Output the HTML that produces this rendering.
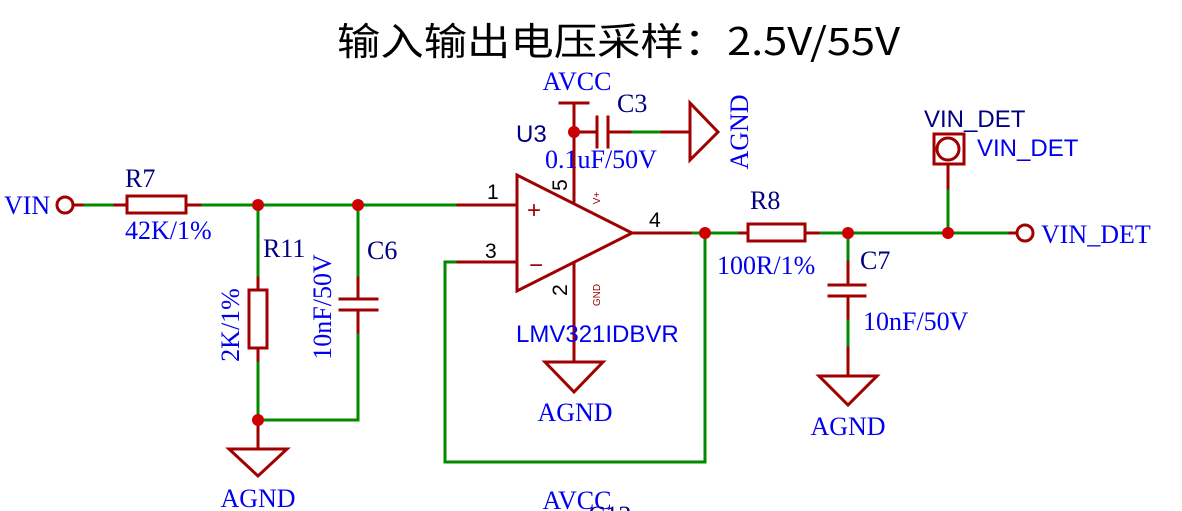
<!DOCTYPE html>
<html><head><meta charset="utf-8"><style>
html,body{margin:0;padding:0;background:#fff;}
svg{display:block;}
.s{font-family:"Liberation Serif",serif;}
.a{font-family:"Liberation Sans",sans-serif;}
</style></head><body>
<svg width="1182" height="511" viewBox="0 0 1182 511" xmlns="http://www.w3.org/2000/svg">
<text x="337" y="55" font-family="'Noto Sans CJK SC',sans-serif" font-size="38" fill="#000" textLength="563" lengthAdjust="spacingAndGlyphs">输入输出电压采样：2.5V/55V</text>

<g stroke-width="3" fill="none" stroke-linecap="square">
<g stroke="#008a00">
<line x1="82" y1="205" x2="115" y2="205"/>
<line x1="200" y1="205" x2="458" y2="205"/>
<line x1="258" y1="205" x2="258" y2="278"/>
<line x1="258" y1="360" x2="258" y2="420"/>
<polyline points="258,420 358,420 358,332"/>
<line x1="358" y1="205" x2="358" y2="278"/>
<polyline points="458,262 445,262 445,462 705,462 705,233"/>
<line x1="690" y1="233" x2="740" y2="233"/>
<line x1="818" y1="233" x2="1010" y2="233"/>
<line x1="848" y1="233" x2="848" y2="262"/>
<line x1="848" y1="318" x2="848" y2="348"/>
<line x1="948" y1="188" x2="948" y2="233"/>
<line x1="630" y1="132" x2="662" y2="132"/>
<line x1="574" y1="132" x2="574" y2="140"/>
<line x1="574" y1="322" x2="574" y2="332"/>
</g>
<g stroke="#a00000">
<circle cx="65" cy="205" r="8"/>
<line x1="73" y1="205" x2="82" y2="205"/>
<line x1="115" y1="205" x2="127" y2="205"/>
<rect x="127" y="196" width="59" height="17"/>
<line x1="186" y1="205" x2="200" y2="205"/>
<line x1="258" y1="278" x2="258" y2="290"/>
<rect x="249" y="290" width="18" height="58"/>
<line x1="258" y1="348" x2="258" y2="360"/>
<line x1="258" y1="420" x2="258" y2="449"/>
<polygon points="229,449 287,449 258,476"/>
<line x1="358" y1="278" x2="358" y2="299"/>
<line x1="340" y1="299" x2="377" y2="299"/>
<line x1="340" y1="310" x2="377" y2="310"/>
<line x1="358" y1="310" x2="358" y2="332"/>
<polygon points="517,175 517,291 632,233"/>
<line x1="458" y1="205" x2="517" y2="205"/>
<line x1="458" y1="262" x2="517" y2="262"/>
<line x1="632" y1="233" x2="690" y2="233"/>
<line x1="574" y1="103" x2="574" y2="201"/>
<line x1="560" y1="103" x2="588" y2="103"/>
<line x1="574" y1="263" x2="574" y2="362"/>
<polygon points="545,362 603,362 574,392"/>
<line x1="574" y1="132" x2="597" y2="132"/>
<line x1="597" y1="117" x2="597" y2="147"/>
<line x1="608" y1="117" x2="608" y2="147"/>
<line x1="608" y1="132" x2="630" y2="132"/>
<line x1="662" y1="132" x2="690" y2="132"/>
<polygon points="690,103 690,160 718,132"/>
<line x1="740" y1="233" x2="748" y2="233"/>
<rect x="748" y="224" width="57" height="17"/>
<line x1="805" y1="233" x2="818" y2="233"/>
<line x1="848" y1="262" x2="848" y2="285"/>
<line x1="829" y1="285" x2="865" y2="285"/>
<line x1="829" y1="296" x2="865" y2="296"/>
<line x1="848" y1="296" x2="848" y2="318"/>
<line x1="848" y1="348" x2="848" y2="376"/>
<polygon points="819,376 877,376 848,405"/>
<line x1="1010" y1="233" x2="1017" y2="233"/>
<circle cx="1025" cy="233" r="8"/>
<rect x="934" y="134" width="30" height="30"/>
<circle cx="948" cy="149" r="11"/>
<line x1="948" y1="164" x2="948" y2="188"/>
</g>
</g>
<g fill="#cc0000">
<circle cx="258" cy="205" r="6"/><circle cx="358" cy="205" r="6"/>
<circle cx="258" cy="420" r="6"/><circle cx="574" cy="132" r="6"/>
<circle cx="705" cy="233" r="6"/><circle cx="848" cy="233" r="6"/>
<circle cx="948" cy="233" r="6"/>
</g>

<g class="s" font-size="26">
<text x="4" y="214" fill="#0000ee">VIN</text>
<text x="125" y="187" fill="#000080">R7</text>
<text x="125" y="239" fill="#0000ee">42K/1%</text>
<text x="263" y="257" fill="#000080">R11</text>
<text x="367" y="259" fill="#000080">C6</text>
<text transform="translate(239,325) rotate(-90)" text-anchor="middle" fill="#0000ee">2K/1%</text>
<text transform="translate(331,307) rotate(-90)" text-anchor="middle" fill="#0000ee">10nF/50V</text>
<text x="258" y="507" text-anchor="middle" fill="#0000ee">AGND</text>
<text x="577" y="90" text-anchor="middle" fill="#0000ee">AVCC</text>
<text x="617" y="112" fill="#000080">C3</text>
<text x="545" y="168" fill="#0000ee">0.1uF/50V</text>
<text transform="translate(748,132) rotate(-90)" text-anchor="middle" fill="#0000ee">AGND</text>
<text x="575" y="421" text-anchor="middle" fill="#0000ee">AGND</text>
<text x="750" y="209" fill="#000080">R8</text>
<text x="717" y="274" fill="#0000ee">100R/1%</text>
<text x="860" y="269" fill="#000080">C7</text>
<text x="863" y="330" fill="#0000ee">10nF/50V</text>
<text x="848" y="435" text-anchor="middle" fill="#0000ee">AGND</text>
<text x="577" y="509" text-anchor="middle" fill="#0000ee">AVCC</text>
<text x="588" y="524" fill="#000080">C12</text>
</g>
<g class="a">
<text x="516" y="142" font-size="24" fill="#000080">U3</text>
<text x="516" y="342" font-size="24" fill="#0000ee">LMV321IDBVR</text>
<text x="487" y="199" font-size="21" fill="#000">1</text>
<text x="485" y="258" font-size="21" fill="#000">3</text>
<text x="649" y="227" font-size="21" fill="#000">4</text>
<text x="527" y="218" font-size="24" fill="#a00000">+</text>
<text x="529" y="273" font-size="24" fill="#a00000">−</text>
<text transform="translate(567,185) rotate(-90)" font-size="21" fill="#000" text-anchor="middle">5</text>
<text transform="translate(567,290) rotate(-90)" font-size="21" fill="#000" text-anchor="middle">2</text>
<text transform="translate(600,198) rotate(-90)" font-size="10" fill="#a00000" text-anchor="middle">V+</text>
<text transform="translate(600,295) rotate(-90)" font-size="10" fill="#a00000" text-anchor="middle">GND</text>
<text x="924" y="127" font-size="24" fill="#000080">VIN_DET</text>
<text x="977" y="156" font-size="24" fill="#0000ee">VIN_DET</text>
<text x="1041" y="243" font-size="26" fill="#0000ee" font-family="'Liberation Serif',serif">VIN_DET</text>
</g>
</svg>
</body></html>
